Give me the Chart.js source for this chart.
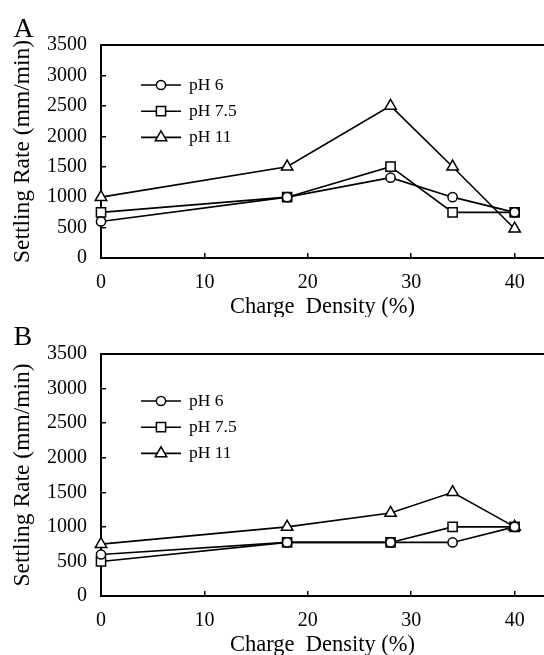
<!DOCTYPE html>
<html>
<head>
<meta charset="utf-8">
<script src="https://cdn.jsdelivr.net/npm/chart.js@4.4.1/dist/chart.umd.min.js"></script>
<style>
  html, body { margin: 0; padding: 0; background: #fff; }
  canvas { display: block; }
</style>
</head>
<body>
<canvas id="chartA" width="544" height="317"></canvas>
<canvas id="chartB" width="544" height="338"></canvas>
<script>
// charge density (%) on the x axis, settling rate (mm/min) on the y axis
const chargeDensity = [0, 18, 28, 34, 40];
const seriesLabels = ["pH 6", "pH 7.5", "pH 11"];
const xTickValues = [0, 10, 20, 30, 40];
const yTickValues = [0, 500, 1000, 1500, 2000, 2500, 3000, 3500];

const panelA_pH6 = [600, 1000, 1320, 1000, 750];
const panelA_pH75 = [750, 1000, 1500, 750, 750];
const panelA_pH11 = [1000, 1500, 2500, 1500, 480];

const panelB_pH6 = [600, 775, 775, 775, 1000];
const panelB_pH75 = [500, 775, 775, 1000, 1000];
const panelB_pH11 = [750, 1000, 1200, 1500, 1000];

const FONT = "'Liberation Serif', 'Times New Roman', serif";
Chart.defaults.font.family = FONT;
Chart.defaults.color = "#000";

const markerStyles = [
    { pointStyle: "circle", pointRadius: 4.6 },
    { pointStyle: "rect", pointRadius: 6.5 },
    { pointStyle: "triangle", pointRadius: 6.6 },
];

function drawMarker(ctx, style, radius, x, y) {
    if (Chart.helpers && Chart.helpers.drawPoint) {
        Chart.helpers.drawPoint(ctx, { pointStyle: style, radius: radius, borderWidth: ctx.lineWidth, rotation: 0 }, x, y);
        return;
    }
    ctx.beginPath();
    if (style === "circle") {
        ctx.arc(x, y, radius, 0, Math.PI * 2);
    } else if (style === "rect") {
        const s = radius * Math.SQRT1_2;
        ctx.rect(x - s, y - s, 2 * s, 2 * s);
    } else {
        for (let k = 0; k < 3; k++) {
            const a = k * 2 * Math.PI / 3;
            ctx.lineTo(x + Math.sin(a) * radius, y - Math.cos(a) * radius);
        }
        ctx.closePath();
    }
    ctx.fill();
    ctx.stroke();
}

const panelLetter = {
    id: "panelLetter",
    afterDraw(chart, args, opts) {
        const ctx = chart.ctx;
        ctx.save();
        ctx.font = "28px " + FONT;
        ctx.fillStyle = "#000";
        ctx.textBaseline = "alphabetic";
        ctx.fillText(opts.text, opts.x, opts.y);
        ctx.restore();
    },
};

const lineLegend = {
    id: "lineLegend",
    afterDatasetsDraw(chart, args, opts) {
        const ctx = chart.ctx;
        const area = chart.chartArea;
        ctx.save();
        chart.data.datasets.forEach((ds, i) => {
            const y = area.top + opts.top + i * opts.step;
            ctx.strokeStyle = "#000";
            ctx.lineWidth = 1.6;
            ctx.beginPath();
            ctx.moveTo(opts.x1, y);
            ctx.lineTo(opts.x2, y);
            ctx.stroke();
            ctx.fillStyle = "#fff";
            ctx.lineWidth = 1.5;
            drawMarker(ctx, ds.pointStyle, ds.pointRadius, (opts.x1 + opts.x2) / 2, y);
            ctx.fillStyle = "#000";
            ctx.font = "17.5px " + FONT;
            ctx.textBaseline = "middle";
            ctx.fillText(ds.label, opts.textX, y);
        });
        ctx.restore();
    },
};

function makeDatasets(seriesList) {
    return seriesList.map((values, i) => ({
        label: seriesLabels[i],
        data: chargeDensity.map((x, j) => ({ x: x, y: values[j] })),
        borderColor: "#000",
        borderWidth: 1.6,
        backgroundColor: "#fff",
        pointBackgroundColor: "#fff",
        pointBorderColor: "#000",
        pointBorderWidth: 1.5,
        pointStyle: markerStyles[i].pointStyle,
        pointRadius: markerStyles[i].pointRadius,
        tension: 0,
        clip: false,
    }));
}

function makeChart(canvasId, letter, seriesList, padTop, legendTop) {
    const ctx = document.getElementById(canvasId).getContext("2d");
    const xMax = 42.84;
    return new Chart(ctx, {
        type: "line",
        data: { datasets: makeDatasets(seriesList) },
        options: {
            responsive: false,
            animation: false,
            layout: { autoPadding: false, padding: { top: padTop, left: 0, right: 0, bottom: 0 } },
            plugins: {
                legend: { display: false },
                tooltip: { enabled: false },
                panelLetter: { text: letter, x: 13.5, y: letter === "A" ? 37 : 28 },
                lineLegend: { top: legendTop, step: 26.2, x1: 141, x2: 181, textX: 189 },
            },
            scales: {
                x: {
                    type: "linear",
                    min: 0,
                    max: xMax,
                    afterBuildTicks: (scale) => {
                        scale.ticks = xTickValues.map((v) => ({ value: v }));
                    },
                    afterFit: (scale) => {
                        scale.height = 59;
                        scale.paddingLeft = 0;
                        scale.paddingRight = 0;
                    },
                    ticks: { font: { size: 20 }, padding: 18, color: "#000", maxRotation: 0, callback: (v) => String(v) },
                    grid: { drawOnChartArea: false, drawTicks: true, tickLength: -5, color: "#000", lineWidth: 1.5 },
                    border: { display: true, color: "#000", width: 2 },
                    title: {
                        display: true,
                        text: "Charge  Density (%)",
                        font: { size: 22.5, lineHeight: 0.9 },
                        padding: { top: 0, bottom: 0 },
                        color: "#000",
                    },
                },
                xTop: {
                    type: "linear",
                    position: "top",
                    min: 0,
                    max: xMax,
                    afterFit: (scale) => {
                        scale.height = 0;
                        scale.paddingLeft = 0;
                        scale.paddingRight = 0;
                    },
                    ticks: { display: false },
                    grid: { display: true, drawOnChartArea: false, drawTicks: false },
                    border: { display: true, color: "#000", width: 2 },
                },
                y: {
                    type: "linear",
                    min: 0,
                    max: 3500,
                    afterBuildTicks: (scale) => {
                        scale.ticks = yTickValues.map((v) => ({ value: v }));
                    },
                    afterFit: (scale) => { scale.width = 101; },
                    ticks: { font: { size: 20 }, padding: 19, color: "#000", callback: (v) => String(v) },
                    grid: { drawOnChartArea: false, drawTicks: true, tickLength: -5, color: "#000", lineWidth: 1.5 },
                    border: { display: true, color: "#000", width: 2 },
                    title: {
                        display: true,
                        text: "Settling Rate (mm/min)",
                        font: { size: 23.5, lineHeight: 1 },
                        padding: { top: 11.5, bottom: 0 },
                        color: "#000",
                    },
                },
            },
        },
        plugins: [panelLetter, lineLegend],
    });
}

document.addEventListener("DOMContentLoaded", () => {
    makeChart("chartA", "A", [panelA_pH6, panelA_pH75, panelA_pH11], 45, 40);
    makeChart("chartB", "B", [panelB_pH6, panelB_pH75, panelB_pH11], 37, 47);
});
</script>
</body>
</html>
